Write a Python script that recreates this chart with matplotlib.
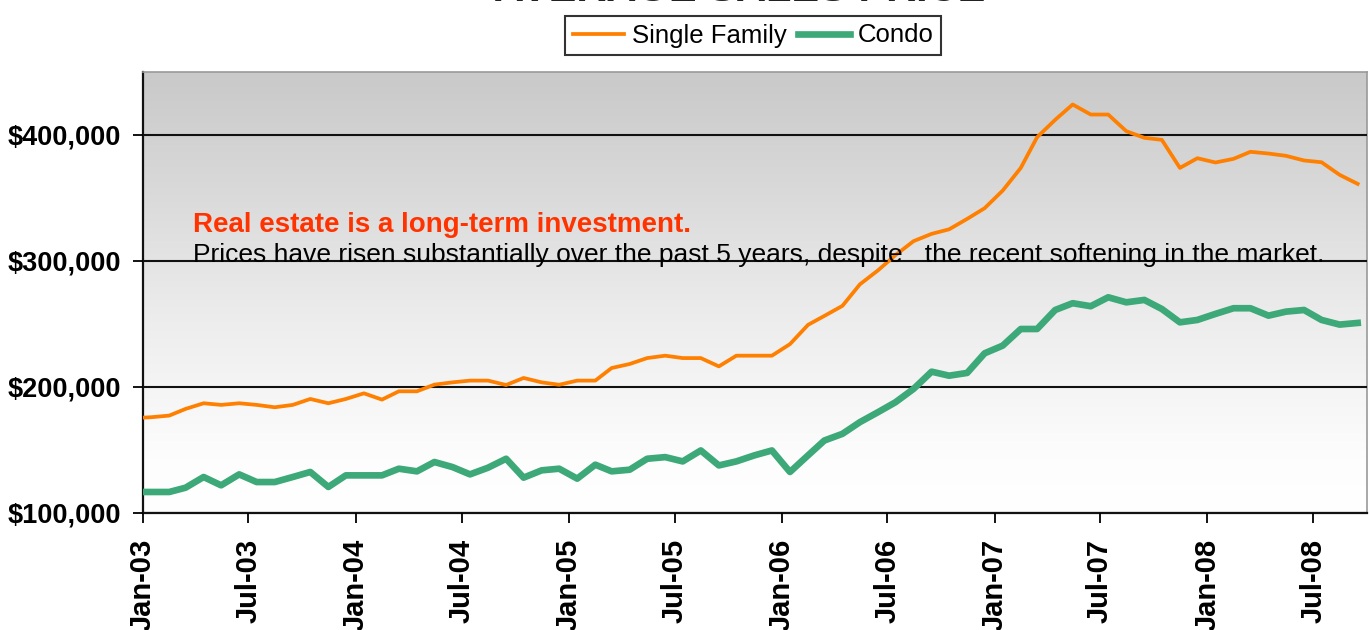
import numpy as np
import pandas as pd
import matplotlib
matplotlib.use("Agg")
import matplotlib.pyplot as plt
import matplotlib.dates as mdates
from matplotlib.colors import LinearSegmentedColormap
from matplotlib.ticker import FuncFormatter, MultipleLocator

# monthly average sales price, Dec-02 .. Sep-08 (points plotted mid-month)
months = pd.date_range("2002-12-01", periods=70, freq="MS") + pd.Timedelta(days=14)

single_family = [
    175000,
    175700, 177000, 182300, 186800, 185500, 186800, 185500, 183600, 185500, 190200, 186800, 190200,
    194700, 189700, 196300, 196300, 201600, 203400, 204800, 204800, 201300, 206900, 203400, 201500,
    204800, 204800, 214800, 218000, 222700, 224600, 222700, 222700, 216100, 224600, 224600, 224600,
    233800, 249100, 256200, 264200, 281300, 292400, 304500, 315600, 321400, 325000, 333300, 341800,
    355800, 373800, 398200, 412000, 424200, 416200, 416200, 403000, 397700, 396100, 373800, 381500,
    378100, 381000, 386600, 385200, 383400, 379700, 378300, 368300, 361100,
]
condo = [
    116300,
    116300, 116300, 119700, 128200, 121600, 130300, 124200, 124200, 128200, 132200, 120300, 129500,
    129500, 129500, 134800, 132700, 140100, 136100, 130300, 135600, 142700, 127700, 133500, 134800,
    126900, 138000, 132700, 134000, 142700, 144000, 140600, 149300, 137400, 140600, 145400, 149300,
    132200, 145400, 157200, 162500, 171800, 179700, 187600, 198200, 211900, 208700, 210900, 226500,
    232600, 245800, 245800, 260900, 266300, 263900, 271000, 267000, 268900, 261700, 251100, 253000,
    257800, 262300, 262300, 256400, 259600, 260900, 253000, 249300, 250600,
]

title = "AVERAGE SALES PRICE"
headline = "Real estate is a long-term investment."
subline = "Prices have risen substantially over the past 5 years, despite   the recent softening in the market."

plt.rcParams["font.family"] = ["Liberation Sans", "DejaVu Sans"]

fig = plt.figure(figsize=(13.69, 6.30), dpi=100)
ax = fig.add_axes([143 / 1369, 1 - 512.5 / 630, 1224 / 1369, 440.5 / 630])

# grey-to-white gradient background
grad = np.linspace(0, 1, 256).reshape(-1, 1)
cmap = LinearSegmentedColormap.from_list(
    "bg", [(0.0, "#ffffff"), (0.12, "#fdfdfd"), (0.45, "#ececec"), (0.75, "#d8d8d8"), (1.0, "#c9c9c9")])
ax.imshow(grad, cmap=cmap, aspect="auto", extent=[0, 1, 0, 1], origin="lower",
          transform=ax.transAxes, zorder=0)

ax.plot(months, single_family, color="#ff8000", lw=2.7, label="Single Family", zorder=3)
ax.plot(months, condo, color="#3da878", lw=4.8, label="Condo", zorder=3)

ax.set_xlim(pd.Timestamp("2003-01-01"), pd.Timestamp("2008-10-01"))
ax.set_ylim(100000, 450000)

ax.yaxis.set_major_locator(MultipleLocator(100000))
ax.yaxis.set_major_formatter(FuncFormatter(lambda v, p: "${:,.0f}".format(v)))
ax.xaxis.set_major_locator(mdates.MonthLocator(bymonth=[1, 7]))
ax.xaxis.set_major_formatter(mdates.DateFormatter("%b-%y"))

ax.grid(axis="y", color="#111111", lw=1.5, zorder=1)
ax.set_axisbelow(False)

ax.tick_params(axis="y", length=7, width=1.3, pad=9, direction="out")
ax.tick_params(axis="x", length=7, width=1.3, pad=12, direction="out")
for lab in ax.get_yticklabels():
    lab.set_fontweight("bold")
    lab.set_fontsize(19.5)
for lab in ax.get_xticklabels():
    lab.set_fontweight("bold")
    lab.set_fontsize(21)
    lab.set_rotation(90)

for s in ["left", "bottom"]:
    ax.spines[s].set_color("#111111")
    ax.spines[s].set_linewidth(1.6)
for s in ["top", "right"]:
    ax.spines[s].set_color("#999999")
    ax.spines[s].set_linewidth(1.2)

ax.text(0.041, 0.637, headline, transform=ax.transAxes, color="#ff3300",
        fontsize=20, fontweight="bold", va="baseline", zorder=4)
ax.text(0.041, 0.569, subline, transform=ax.transAxes, color="black",
        fontsize=19, va="baseline", zorder=4)

fig.text(740 / 1369, 1 - 1 / 630, title, ha="center", va="baseline",
         fontsize=30, fontweight="bold", color="#222222")

leg = fig.legend(loc="center", bbox_to_anchor=(753 / 1369, 1 - 35.5 / 630), ncol=2,
                 fontsize=18.5, handlelength=2.0, handletextpad=0.3, columnspacing=0.45,
                 borderpad=0.3, frameon=True, fancybox=False, shadow=False)
leg.get_frame().set_edgecolor("black")
leg.get_frame().set_linewidth(1.5)

fig.savefig("out.png", dpi=100)
